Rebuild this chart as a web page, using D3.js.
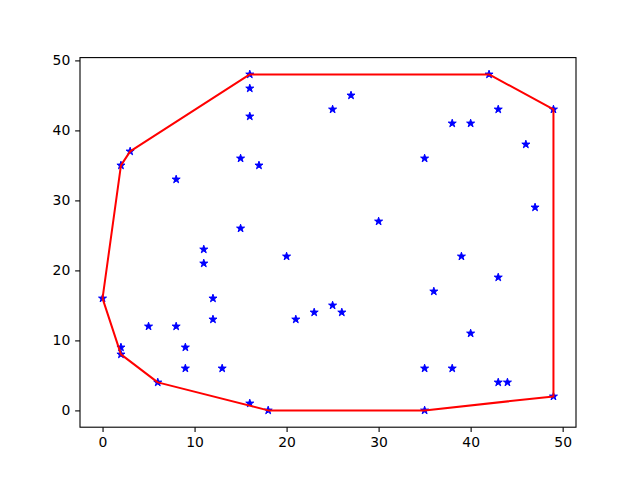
<!DOCTYPE html>
<meta charset="utf-8">
<script src="https://d3js.org/d3.v7.min.js"></script>
<style>
  body { margin: 0; background: #fff; }
  text { font-family: "DejaVu Sans", sans-serif; }
</style>
<div id="chart"></div>
<script>

// scattered points (x, y)
var xs = [0, 2, 6, 18, 35, 49, 49, 42, 16, 3, 2,
          2, 16, 16, 15, 17, 8, 25, 27, 38, 40, 43, 46, 47, 35, 30,
          11, 11, 15, 20, 12, 12, 5, 8, 9, 9, 13, 16, 21, 23, 25, 26,
          39, 43, 36, 40, 35, 38, 43, 44];
var ys = [16, 8, 4, 0, 0, 2, 43, 48, 48, 37, 35,
          9, 46, 42, 36, 35, 33, 43, 45, 41, 41, 43, 38, 29, 36, 27,
          23, 21, 26, 22, 16, 13, 12, 12, 9, 6, 6, 1, 13, 14, 15, 14,
          22, 19, 17, 11, 6, 6, 4, 4];

// convex hull vertices, in drawing order
var hullX = [0, 2, 6, 18, 35, 49, 49, 42, 16, 3, 2, 0];
var hullY = [16, 8, 4, 0, 0, 2, 43, 48, 48, 37, 35, 16];

var xTicks = [0, 10, 20, 30, 40, 50];
var yTicks = [0, 10, 20, 30, 40, 50];

var W = 640, H = 480;
var margin = {top: 57.6, right: 64, bottom: 52.8, left: 80};
var width = W - margin.left - margin.right,
    height = H - margin.top - margin.bottom;

var svg = d3.select("#chart").append("svg")
    .attr("width", W)
    .attr("height", H);

var g = svg.append("g")
    .attr("transform", "translate(" + margin.left + "," + margin.top + ")");

var x = d3.scaleLinear().domain([-2.45, 51.45]).range([0, width]);
var y = d3.scaleLinear().domain([-2.4, 50.4]).range([height, 0]);

// axes (sizes in points at 100 dpi)
var xAxis = g.append("g")
    .attr("transform", "translate(0," + height + ")")
    .call(d3.axisBottom(x).tickValues(xTicks).tickSize(4.86).tickPadding(4.86));
var yAxis = g.append("g")
    .call(d3.axisLeft(y).tickValues(yTicks).tickSize(4.86).tickPadding(4.86));
[xAxis, yAxis].forEach(function(a) {
  a.select(".domain").remove();
  a.selectAll("line").attr("stroke", "#000").attr("stroke-width", 1.1);
  a.selectAll("text").attr("font-size", 13.9).attr("fill", "#000")
    .style("font-family", "DejaVu Sans, sans-serif");
});

// frame
g.append("rect")
    .attr("width", width)
    .attr("height", height)
    .attr("fill", "none")
    .attr("stroke", "#000")
    .attr("stroke-width", 1.1);

// star markers
var star = d3.symbol().type(d3.symbolStar).size(20);
g.append("g").selectAll("path")
  .data(xs.map(function(d, i) { return [d, ys[i]]; }))
  .enter()
  .append("path")
    .attr("d", star)
    .attr("transform", function(d) { return "translate(" + x(d[0]) + "," + y(d[1]) + ")"; })
    .attr("fill", "#0000ff")
    .attr("stroke", "#0000ff")
    .attr("stroke-width", 1)
    .attr("stroke-linejoin", "round");

// hull outline
var line = d3.line()
    .x(function(d) { return x(d[0]); })
    .y(function(d) { return y(d[1]); });
g.append("path")
    .datum(hullX.map(function(d, i) { return [d, hullY[i]]; }))
    .attr("d", line)
    .attr("fill", "none")
    .attr("stroke", "#ff0000")
    .attr("stroke-width", 2)
    .attr("stroke-linejoin", "round");

</script>
